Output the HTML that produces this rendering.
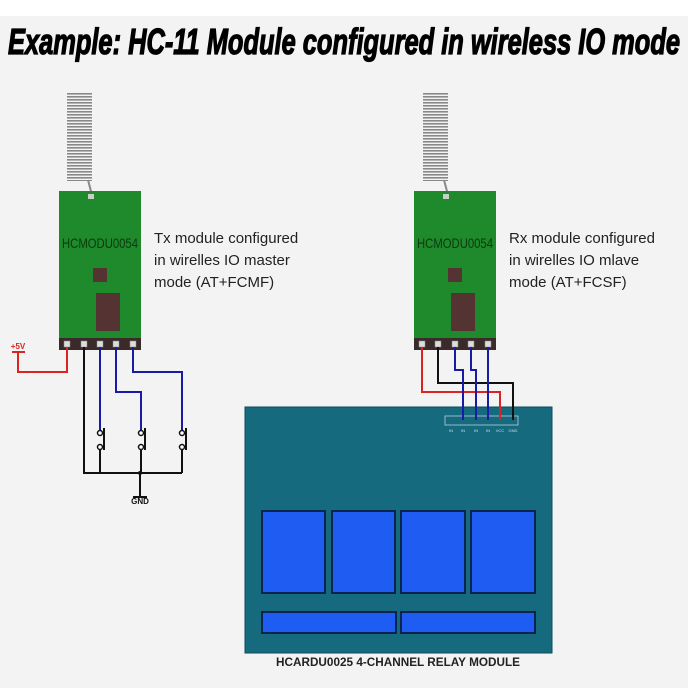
<!DOCTYPE html>
<html><head><meta charset="utf-8"><style>
html,body{margin:0;padding:0;background:#f3f3f3;}
svg{display:block;}
</style></head><body>
<svg width="688" height="688" viewBox="0 0 688 688" xmlns="http://www.w3.org/2000/svg" font-family="Liberation Sans, sans-serif">
<rect x="0" y="0" width="688" height="688" fill="#f3f3f3"/>
<rect x="0" y="0" width="688" height="16" fill="#ffffff"/>
<text x="8" y="54" font-size="36" font-weight="bold" font-style="italic" textLength="672" lengthAdjust="spacingAndGlyphs" fill="#000" stroke="#000" stroke-width="1.3">Example: HC-11 Module configured in wireless IO mode</text>

<defs>
<pattern id="coil" width="4" height="3" patternUnits="userSpaceOnUse">
<rect width="26" height="1.6" fill="#888"/>
</pattern>
</defs>

<!-- Left module -->
<rect x="67" y="93" width="25" height="88" fill="url(#coil)"/>
<line x1="88" y1="180" x2="92" y2="195" stroke="#888" stroke-width="2"/>
<rect x="59" y="191" width="82" height="148" fill="#1f8a2b"/>
<rect x="88" y="194" width="6" height="5" fill="#ccc"/>
<text x="100" y="248" font-size="14" text-anchor="middle" fill="#0a3a10" textLength="76" lengthAdjust="spacingAndGlyphs">HCMODU0054</text>
<rect x="93" y="268" width="14" height="14" fill="#553333"/>
<rect x="96" y="293" width="24" height="38" fill="#553333"/>
<rect x="59" y="338" width="82" height="12" fill="#3a2a2a"/>
<g fill="#ddd" stroke="#888" stroke-width="0.5">
<rect x="64" y="341" width="6" height="6"/><rect x="81" y="341" width="6" height="6"/><rect x="97" y="341" width="6" height="6"/><rect x="113" y="341" width="6" height="6"/><rect x="130" y="341" width="6" height="6"/>
</g>
<text x="154" y="243" font-size="15" fill="#222">Tx module configured</text>
<text x="154" y="265" font-size="15" fill="#222">in wirelles IO master</text>
<text x="154" y="287" font-size="15" fill="#222">mode (AT+FCMF)</text>

<!-- left wiring -->
<g fill="none" stroke-width="2">
<polyline points="67,347 67,372 18,372 18,352" stroke="#d22"/>
<line x1="12" y1="352" x2="25" y2="352" stroke="#d22"/>
<polyline points="84,347 84,473 182,473" stroke="#111"/>
<line x1="140" y1="473" x2="140" y2="497" stroke="#111"/>
<line x1="133" y1="497" x2="147" y2="497" stroke="#111"/>
<polyline points="100,347 100,432" stroke="#1a1aa8"/>
<polyline points="116,347 116,392 141,392 141,432" stroke="#1a1aa8"/>
<polyline points="133,347 133,372 182,372 182,432" stroke="#1a1aa8"/>
<g stroke="#111">
<line x1="100" y1="448" x2="100" y2="473"/><line x1="141" y1="448" x2="141" y2="473"/><line x1="182" y1="448" x2="182" y2="473"/>
<line x1="104" y1="428" x2="104" y2="450"/><line x1="145" y1="428" x2="145" y2="450"/><line x1="186" y1="428" x2="186" y2="450"/>
</g>
</g>
<g fill="#fff" stroke="#111" stroke-width="1.5">
<circle cx="100" cy="433" r="2.5"/><circle cx="100" cy="447" r="2.5"/>
<circle cx="141" cy="433" r="2.5"/><circle cx="141" cy="447" r="2.5"/>
<circle cx="182" cy="433" r="2.5"/><circle cx="182" cy="447" r="2.5"/>
</g>
<circle cx="140" cy="473" r="2" fill="#111"/>
<text x="18" y="349" font-size="8" font-weight="bold" fill="#d22" text-anchor="middle">+5V</text>
<text x="140" y="504" font-size="8" font-weight="bold" fill="#111" text-anchor="middle">GND</text>

<!-- Right module -->
<rect x="423" y="93" width="25" height="88" fill="url(#coil)"/>
<line x1="444" y1="180" x2="448" y2="195" stroke="#888" stroke-width="2"/>
<rect x="414" y="191" width="82" height="148" fill="#1f8a2b"/>
<rect x="443" y="194" width="6" height="5" fill="#ccc"/>
<text x="455" y="248" font-size="14" text-anchor="middle" fill="#0a3a10" textLength="76" lengthAdjust="spacingAndGlyphs">HCMODU0054</text>
<rect x="448" y="268" width="14" height="14" fill="#553333"/>
<rect x="451" y="293" width="24" height="38" fill="#553333"/>
<rect x="414" y="338" width="82" height="12" fill="#3a2a2a"/>
<g fill="#ddd" stroke="#888" stroke-width="0.5">
<rect x="419" y="341" width="6" height="6"/><rect x="435" y="341" width="6" height="6"/><rect x="452" y="341" width="6" height="6"/><rect x="468" y="341" width="6" height="6"/><rect x="485" y="341" width="6" height="6"/>
</g>
<text x="509" y="243" font-size="15" fill="#222">Rx module configured</text>
<text x="509" y="265" font-size="15" fill="#222">in wirelles IO mlave</text>
<text x="509" y="287" font-size="15" fill="#222">mode (AT+FCSF)</text>

<!-- Relay board -->
<rect x="245" y="407" width="307" height="246" fill="#166a7e" stroke="#0d4a5a" stroke-width="1"/>
<rect x="445" y="416" width="73" height="9" fill="none" stroke="#bcd" stroke-width="0.8"/>
<g font-size="4" fill="#cde" text-anchor="middle">
<text x="451" y="432">IN</text><text x="463" y="432">IN</text><text x="476" y="432">IN</text><text x="488" y="432">IN</text><text x="500" y="432">VCC</text><text x="513" y="432">GND</text>
</g>
<g fill="none" stroke-width="2">
<polyline points="422,347 422,392 500,392 500,420" stroke="#d22"/>
<polyline points="438,347 438,383 513,383 513,420" stroke="#111"/>
<polyline points="455,347 455,370 463,370 463,420" stroke="#1a1aa8"/>
<polyline points="471,347 471,370 476,370 476,420" stroke="#1a1aa8"/>
<polyline points="488,347 488,420" stroke="#1a1aa8"/>
</g>
<g fill="#1e5cf2" stroke="#0a2450" stroke-width="2">
<rect x="262" y="511" width="63" height="82"/>
<rect x="332" y="511" width="63" height="82"/>
<rect x="401" y="511" width="64" height="82"/>
<rect x="471" y="511" width="64" height="82"/>
<rect x="262" y="612" width="134" height="21"/>
<rect x="401" y="612" width="134" height="21"/>
</g>
<text x="398" y="666" font-size="12" font-weight="bold" fill="#222" text-anchor="middle" textLength="244" lengthAdjust="spacingAndGlyphs">HCARDU0025 4-CHANNEL RELAY MODULE</text>
</svg>
</body></html>
